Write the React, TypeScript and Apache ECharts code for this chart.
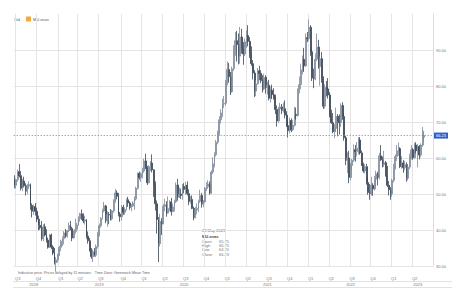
import React, { useEffect, useRef } from 'react';
import * as echarts from 'echarts';

// Weekly bars, first week starting Monday 25 Jun 2018
const START_UTC = Date.UTC(2018, 5, 25);
const CATEGORY_COUNT = 262;

const opens = [
  54.0, 52.4, 54.0, 56.2, 55.1, 51.6, 53.6, 52.3, 50.8, 52.2, 52.6, 46.8, 45.2, 46.5, 45.2, 43.0, 41.3, 40.6, 37.6, 40.9,
  38.6, 37.2, 35.2, 38.6, 35.3, 33.6, 30.9, 31.7, 33.0, 35.2, 36.9, 37.6, 39.2, 38.3, 39.8, 41.3, 40.4, 37.8, 39.3, 40.2,
  41.4, 43.1, 44.5, 43.7, 42.5, 42.8, 38.3, 37.0, 34.4, 32.6, 34.0, 33.0, 35.4, 38.6, 41.2, 43.2, 45.3, 46.7, 42.6, 44.3,
  44.2, 43.1, 45.3, 48.2, 50.3, 49.4, 44.4, 43.7, 46.3, 44.9, 45.7, 48.4, 47.5, 46.3, 46.7, 47.5, 48.6, 51.6, 55.7, 54.6,
  55.6, 56.4, 59.2, 57.3, 53.1, 57.6, 58.6, 56.7, 52.4, 47.3, 42.9, 36.2, 42.4, 41.7, 46.6, 47.0, 44.7, 46.0, 47.8, 45.1,
  46.4, 47.8, 52.5, 49.2, 50.0, 49.6, 52.1, 51.3, 52.4, 50.1, 47.9, 48.5, 46.0, 43.5, 45.6, 46.0, 47.9, 49.6, 47.2, 47.8,
  51.6, 52.0, 52.8, 50.3, 56.1, 58.4, 60.9, 64.4, 66.9, 70.6, 72.5, 75.0, 75.2, 80.9, 84.6, 82.6, 78.4, 84.8, 90.2, 92.6,
  91.5, 88.3, 93.6, 90.4, 88.9, 92.3, 94.0, 92.4, 89.0, 86.2, 83.6, 78.6, 80.6, 84.2, 83.5, 81.5, 79.2, 82.4, 79.6, 80.2,
  76.6, 78.8, 77.6, 77.0, 73.5, 70.3, 73.6, 74.2, 73.2, 73.7, 71.9, 69.0, 67.6, 70.4, 67.9, 69.1, 72.1, 71.8, 78.8, 80.4,
  84.5, 87.4, 85.6, 93.4, 93.2, 96.3, 89.5, 82.2, 82.0, 87.4, 90.8, 85.4, 87.6, 82.0, 74.4, 79.6, 79.2, 77.5, 71.9, 69.8,
  67.3, 68.2, 71.6, 70.2, 69.8, 74.6, 71.5, 65.6, 59.4, 60.0, 54.6, 57.9, 59.4, 62.3, 61.8, 62.7, 65.0, 61.4, 58.0, 56.4,
  57.6, 53.2, 50.4, 50.1, 52.4, 51.4, 54.1, 55.6, 54.6, 60.6, 59.5, 58.2, 58.7, 55.2, 52.4, 51.2, 50.0, 53.8, 57.4, 60.4,
  62.0, 62.6, 57.6, 58.6, 57.3, 58.2, 54.4, 57.5, 60.4, 62.3, 60.1, 63.6, 62.0, 63.2, 60.8, 63.6, 65.75
];
const highs = [
  55.2, 54.3, 56.8, 58.3, 56.4, 54.2, 54.8, 53.0, 52.8, 53.5, 52.9, 47.4, 47.1, 47.5, 46.2, 44.0, 43.1, 42.5, 41.6, 41.8,
  40.2, 37.9, 38.9, 39.0, 35.8, 35.0, 32.5, 33.4, 35.6, 37.3, 38.2, 39.7, 40.3, 40.0, 42.1, 42.5, 40.9, 39.9, 43.2, 42.0,
  43.8, 44.8, 45.7, 44.6, 44.0, 43.0, 39.6, 37.8, 35.0, 34.6, 35.0, 36.0, 39.5, 41.8, 43.6, 45.9, 47.8, 47.0, 45.2, 45.0,
  45.8, 45.6, 48.5, 51.4, 51.0, 50.3, 45.0, 46.9, 47.0, 46.3, 48.8, 49.2, 48.0, 47.2, 48.0, 49.3, 52.0, 56.0, 56.2, 56.0,
  57.3, 59.8, 61.2, 57.8, 58.0, 59.2, 61.0, 56.9, 53.5, 48.2, 43.6, 44.5, 43.3, 47.2, 48.7, 48.0, 49.3, 48.3, 48.9, 47.4,
  48.4, 53.2, 54.2, 51.8, 51.5, 52.8, 53.0, 53.4, 53.5, 51.3, 49.4, 49.6, 46.5, 46.4, 47.4, 48.4, 51.2, 50.3, 48.3, 51.9,
  53.3, 53.8, 53.5, 56.6, 60.2, 61.6, 65.0, 67.6, 71.6, 73.6, 76.5, 77.2, 81.7, 86.8, 86.4, 83.9, 85.4, 91.3, 95.0, 95.3,
  94.6, 96.4, 95.9, 92.2, 93.2, 95.5, 96.9, 93.6, 91.0, 87.2, 84.4, 81.6, 85.0, 85.6, 84.4, 83.0, 83.4, 83.0, 81.2, 81.7,
  79.8, 80.4, 79.4, 77.6, 74.6, 74.2, 75.3, 75.0, 75.4, 76.0, 73.0, 70.4, 71.2, 71.0, 70.6, 74.2, 74.0, 79.3, 82.6, 86.2,
  88.5, 90.6, 94.6, 95.0, 98.5, 96.9, 90.2, 84.8, 89.1, 94.6, 92.8, 88.2, 89.4, 82.7, 80.5, 81.4, 82.2, 78.3, 73.4, 72.5,
  69.4, 74.0, 72.2, 72.1, 75.2, 75.5, 72.6, 66.2, 61.6, 62.0, 58.6, 59.8, 63.8, 63.6, 64.4, 65.8, 65.8, 62.1, 58.7, 58.3,
  58.4, 54.5, 52.8, 54.8, 53.0, 55.0, 56.5, 56.2, 61.4, 63.6, 60.4, 62.0, 59.2, 57.8, 53.6, 51.9, 54.2, 58.4, 61.0, 63.6,
  64.3, 63.0, 60.5, 59.4, 59.2, 58.8, 58.3, 61.2, 63.6, 62.8, 64.2, 64.4, 63.9, 63.6, 64.1, 68.6, 66.75
];
const lows = [
  51.6, 51.5, 53.4, 54.6, 51.0, 50.8, 51.8, 49.6, 49.9, 51.4, 45.6, 43.5, 44.2, 44.0, 42.2, 39.9, 40.1, 37.0, 36.9, 38.2,
  36.5, 34.8, 35.0, 34.7, 33.0, 30.4, 28.4, 30.9, 32.8, 34.1, 35.5, 36.0, 37.8, 37.9, 39.4, 39.9, 36.9, 37.6, 39.0, 39.5,
  41.2, 42.3, 42.8, 41.9, 41.5, 37.6, 36.2, 34.0, 32.0, 31.1, 32.6, 32.5, 34.8, 38.2, 40.6, 42.9, 44.9, 41.9, 40.9, 41.6,
  42.6, 42.7, 44.8, 47.6, 48.5, 43.8, 42.3, 42.6, 44.2, 44.2, 45.4, 46.4, 45.6, 45.2, 46.4, 45.6, 48.2, 51.2, 54.0, 53.4,
  54.3, 55.9, 56.9, 52.5, 53.0, 56.4, 56.0, 49.2, 45.4, 39.0, 31.1, 35.4, 38.6, 41.6, 45.2, 43.7, 44.5, 45.2, 44.0, 45.0,
  45.1, 47.5, 48.1, 48.9, 48.6, 48.4, 50.2, 49.8, 49.6, 46.9, 47.3, 45.8, 42.7, 43.2, 44.3, 45.0, 47.5, 46.2, 46.3, 47.6,
  50.8, 51.4, 49.8, 50.0, 55.5, 57.4, 60.4, 63.8, 66.2, 69.6, 71.4, 73.9, 74.5, 80.2, 80.9, 77.5, 78.2, 84.2, 88.4, 86.8,
  86.0, 86.2, 89.0, 85.9, 88.3, 90.6, 91.0, 87.8, 85.6, 81.8, 76.9, 77.2, 80.4, 81.6, 80.8, 78.2, 78.8, 77.9, 77.6, 76.0,
  75.4, 76.4, 76.2, 72.2, 68.7, 69.8, 72.4, 72.2, 72.6, 71.0, 68.6, 65.7, 66.8, 67.2, 67.5, 68.7, 70.7, 71.5, 77.9, 79.1,
  83.2, 83.9, 85.3, 92.2, 92.6, 88.4, 81.4, 79.4, 81.6, 86.9, 84.8, 80.1, 80.9, 73.6, 73.8, 77.1, 76.5, 71.3, 69.5, 66.9,
  65.5, 67.4, 66.0, 66.5, 68.6, 70.6, 64.8, 58.0, 55.8, 53.0, 53.8, 56.6, 58.9, 59.0, 60.4, 61.0, 60.9, 57.8, 55.9, 55.7,
  52.6, 49.8, 48.4, 49.6, 49.5, 51.0, 52.2, 52.4, 54.0, 59.2, 57.4, 57.5, 54.8, 51.9, 49.6, 48.4, 49.2, 53.2, 56.8, 59.2,
  60.6, 57.2, 57.0, 55.9, 56.6, 53.4, 53.8, 56.9, 59.6, 59.5, 59.8, 61.3, 57.4, 59.6, 60.2, 63.1, 64.70
];
const closes = [
  52.4, 54.0, 56.2, 55.1, 51.6, 53.6, 52.3, 50.8, 52.2, 52.6, 46.8, 45.2, 46.5, 45.2, 43.0, 41.3, 40.6, 37.6, 40.9, 38.6,
  37.2, 35.2, 38.6, 35.3, 33.6, 30.9, 31.7, 33.0, 35.2, 36.9, 37.6, 39.2, 38.3, 39.8, 41.3, 40.4, 37.8, 39.3, 40.2, 41.4,
  43.1, 44.5, 43.7, 42.5, 42.8, 38.3, 37.0, 34.4, 32.6, 34.0, 33.0, 35.4, 38.6, 41.2, 43.2, 45.3, 46.7, 42.6, 44.3, 44.2,
  43.1, 45.3, 48.2, 50.3, 49.4, 44.4, 43.7, 46.3, 44.9, 45.7, 48.4, 47.5, 46.3, 46.7, 47.5, 48.6, 51.6, 55.7, 54.6, 55.6,
  56.4, 59.2, 57.3, 53.1, 57.6, 58.6, 56.7, 52.4, 47.3, 42.9, 36.2, 42.4, 41.7, 46.6, 47.0, 44.7, 46.0, 47.8, 45.1, 46.4,
  47.8, 52.5, 49.2, 50.0, 49.6, 52.1, 51.3, 52.4, 50.1, 47.9, 48.5, 46.0, 43.5, 45.6, 46.0, 47.9, 49.6, 47.2, 47.8, 51.6,
  52.0, 52.8, 50.3, 56.1, 58.4, 60.9, 64.4, 66.9, 70.6, 72.5, 75.0, 75.2, 80.9, 84.6, 82.6, 78.4, 84.8, 90.2, 92.6, 91.5,
  88.3, 93.6, 90.4, 88.9, 92.3, 94.0, 92.4, 89.0, 86.2, 83.6, 78.6, 80.6, 84.2, 83.5, 81.5, 79.2, 82.4, 79.6, 80.2, 76.6,
  78.8, 77.6, 77.0, 73.5, 70.3, 73.6, 74.2, 73.2, 73.7, 71.9, 69.0, 67.6, 70.4, 67.9, 69.1, 72.1, 71.8, 78.8, 80.4, 84.5,
  87.4, 85.6, 93.4, 93.2, 96.3, 89.5, 82.2, 82.0, 87.4, 90.8, 85.4, 87.6, 82.0, 74.4, 79.6, 79.2, 77.5, 71.9, 69.8, 67.3,
  68.2, 71.6, 70.2, 69.8, 74.6, 71.5, 65.6, 59.4, 60.0, 54.6, 57.9, 59.4, 62.3, 61.8, 62.7, 65.0, 61.4, 58.0, 56.4, 57.6,
  53.2, 50.4, 50.1, 52.4, 51.4, 54.1, 55.6, 54.6, 60.6, 59.5, 58.2, 58.7, 55.2, 52.4, 51.2, 50.0, 53.8, 57.4, 60.4, 62.0,
  62.6, 57.6, 58.6, 57.3, 58.2, 54.4, 57.5, 60.4, 62.3, 60.1, 63.6, 62.0, 63.2, 60.8, 63.6, 67.5, 66.23
];

const yMin = 30;
const yMax = 100;
const yStep = 10;
const lastClose = 66.23;
const yearLabelWeeks = ['2018-09-17', '2019-07-01', '2020-07-06', '2021-07-05', '2022-07-04', '2023-04-24'];
const tooltipDate = '23 May 2023';
const symbolName = 'MU.xnas';
const tooltipRows: [string, string][] = [
  ['Open', '65.75'],
  ['High', '66.75'],
  ['Low', '64.70'],
  ['Close', '66.23'],
];
const footNote = 'Indicative price. Prices delayed by 15 minutes    Time Zone: Greenwich Mean Time';

function pad(n: number) {
  return n < 10 ? '0' + n : '' + n;
}
const categories: string[] = [];
for (let i = 0; i < CATEGORY_COUNT; i++) {
  const d = new Date(START_UTC + i * 7 * 86400000);
  categories.push(d.getUTCFullYear() + '-' + pad(d.getUTCMonth() + 1) + '-' + pad(d.getUTCDate()));
}
function isQuarterStart(v: string) {
  const m = +v.slice(5, 7) - 1;
  const day = +v.slice(8, 10);
  return m % 3 === 0 && day <= 7;
}
const quarterStartIdx = new Set<number>();
const quarterLabelIdx = new Set<number>();
categories.forEach((c, i) => {
  if (isQuarterStart(c)) {
    quarterStartIdx.add(i);
    quarterLabelIdx.add(i + 1);
  }
});

const FONT = 'Arial, "Liberation Sans", sans-serif';

export default function App() {
  const ref = useRef<HTMLDivElement>(null);
  useEffect(() => {
    if (!ref.current) return;
    const chart = echarts.init(ref.current, null, { renderer: 'svg' });
    const gridColor = '#e4e4e4';
    const textColor = '#777777';
    const candleData = closes.map((c, i) => [opens[i], c, lows[i], highs[i]]);
    const graphics: any[] = [
      { type: 'text', left: 14, top: 17, style: { text: 'Std', fontSize: 4, fill: '#666', fontFamily: FONT } },
      { type: 'text', left: 22, top: 17, style: { text: '-', fontSize: 4, fill: '#999', fontFamily: FONT } },
      { type: 'rect', shape: { x: 26, y: 16.5, width: 5, height: 5 }, style: { fill: '#f2a93b' } },
      { type: 'text', left: 33, top: 17, style: { text: symbolName, fontSize: 4, fill: '#555', fontFamily: FONT } },
      { type: 'text', left: 18, top: 270.5, style: { text: footNote, fontSize: 3.6, fill: '#666', fontFamily: FONT } },
      { type: 'text', left: 202, top: 228, style: { text: tooltipDate, fontSize: 4, fill: '#666', fontFamily: FONT } },
      { type: 'text', left: 202, top: 234, style: { text: symbolName, fontSize: 4, fill: '#444', fontWeight: 'bold', fontFamily: FONT } },
    ];
    tooltipRows.forEach((r, k) => {
      graphics.push({ type: 'text', left: 202, top: 239.5 + k * 4.2, style: { text: r[0], fontSize: 4, fill: '#777', fontFamily: FONT } });
      graphics.push({ type: 'text', left: 219, top: 239.5 + k * 4.2, style: { text: r[1], fontSize: 4, fill: '#777', fontFamily: FONT } });
    });
    graphics.push({ type: 'line', shape: { x1: 13, y1: 281.5, x2: 452, y2: 281.5 }, style: { stroke: '#e2e2e2', lineWidth: 1 } });
    graphics.push({ type: 'line', shape: { x1: 13, y1: 287.5, x2: 452, y2: 287.5 }, style: { stroke: '#e2e2e2', lineWidth: 1 } });

    chart.setOption({
      animation: false,
      backgroundColor: '#ffffff',
      grid: { left: 13.7, right: 33, top: 14, bottom: 34, containLabel: false },
      xAxis: [
        {
          type: 'category',
          data: categories,
          boundaryGap: true,
          axisLine: { show: false },
          axisTick: { show: false },
          splitLine: {
            show: true,
            interval: (i: number) => quarterStartIdx.has(i),
            lineStyle: { color: gridColor, width: 1 },
          },
          axisLabel: {
            show: true,
            interval: (i: number) => quarterLabelIdx.has(i),
            formatter: (v: string) => 'Q' + (Math.floor((+v.slice(5, 7) - 1) / 3) + 1),
            fontSize: 4,
            color: textColor,
            margin: 10.5,
            fontFamily: FONT,
          },
        },
        {
          type: 'category',
          data: categories,
          boundaryGap: true,
          position: 'bottom',
          offset: 6,
          axisLine: { show: false },
          axisTick: { show: false },
          splitLine: { show: false },
          axisLabel: {
            show: true,
            interval: (i: number, v: string) => yearLabelWeeks.indexOf(v) >= 0,
            formatter: (v: string) => v.slice(0, 4),
            fontSize: 4,
            color: textColor,
            margin: 10.5,
            fontFamily: FONT,
          },
        },
      ],
      yAxis: {
        type: 'value',
        position: 'right',
        min: yMin,
        max: yMax,
        interval: yStep,
        axisLine: { show: true, lineStyle: { color: '#dcdcdc', width: 1 } },
        axisTick: { show: false },
        splitLine: { show: true, showMaxLine: false, lineStyle: { color: gridColor, width: 1 } },
        axisLabel: {
          formatter: (v: number) => (v >= yMax ? '' : v.toFixed(2)),
          fontSize: 4,
          color: textColor,
          margin: 3,
          fontFamily: FONT,
        },
      },
      series: [
        {
          type: 'candlestick',
          data: candleData,
          barWidth: 1.4,
          clip: false,
          itemStyle: {
            color: '#aab3bf',
            color0: '#3a4657',
            borderColor: '#7f8a99',
            borderColor0: '#3a4657',
            borderWidth: 0.8,
          },
          markLine: {
            silent: true,
            symbol: 'none',
            data: [{ yAxis: lastClose }],
            lineStyle: { type: [1, 2], color: '#e2603f', width: 1 },
            label: {
              show: true,
              position: 'end',
              formatter: lastClose.toFixed(2),
              backgroundColor: '#2f5fc7',
              color: '#ffffff',
              fontSize: 4,
              padding: [1, 2],
              distance: 1,
              fontFamily: FONT,
            },
          },
        },
      ],
      graphic: graphics,
    });
    return () => chart.dispose();
  }, []);
  return <div ref={ref} style={{ position: 'absolute', left: 0, top: 0, width: 466, height: 300 }} />;
}
